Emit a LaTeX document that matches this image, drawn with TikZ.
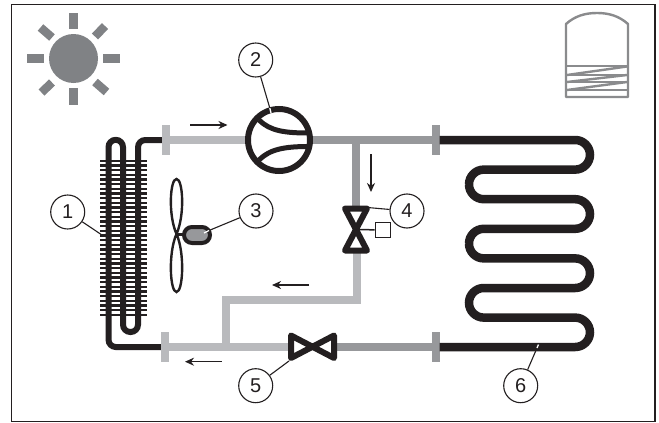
\documentclass[tikz,border=0pt]{standalone}
\usepackage{fontspec}
\setmainfont{Liberation Sans}
\usetikzlibrary{arrows.meta}
\definecolor{ink}{HTML}{231F20}
\definecolor{sungray}{HTML}{808285}
\definecolor{lightpipe}{HTML}{B9BABD}
\definecolor{midpipe}{HTML}{97989B}
\definecolor{tankgray}{HTML}{8A8B8D}
\tikzset{
  lab/.style={circle,draw=ink,line width=1.1pt,fill=white,minimum size=34pt,inner sep=0pt,text=ink,font=\fontsize{20}{20}\selectfont},
  leader/.style={draw=ink,line width=1.1pt},
  leadtip/.style={draw=white,line width=1.3pt},
  ray/.style={draw=sungray,line width=8.5pt},
  lightline/.style={draw=lightpipe,line width=8.5pt},
  midline/.style={draw=midpipe,line width=8.5pt},
  lightflange/.style={draw=lightpipe,line width=8pt},
  midflange/.style={draw=midpipe,line width=8pt},
  blackpipe/.style={draw=ink,line width=8.5pt,rounded corners=14.8pt},
  coilpipe/.style={draw=ink,line width=6pt,rounded corners=7.3pt},
  fin/.style={draw=ink,line width=2.3pt},
  valvebody/.style={draw=ink,line width=6pt,line join=round},
  flow/.style={draw=ink,line width=1.5pt,-{Stealth[length=9pt,width=8pt]}},
  tankline/.style={draw=tankgray,line width=2.4pt},
  blade/.style={draw=ink,line width=2.4pt,fill=white},
}
\begin{document}
\begin{tikzpicture}[x=1pt,y=-1pt]
\useasboundingbox (0,0) rectangle (659,423);
\fill[white] (0,0) rectangle (659,423);
% frame
\draw[ink,line width=1.8pt] (11.5,4.5) rectangle (655,421.5);
% sun
\fill[sungray] (73.5,58.5) circle (24.5pt);
\draw[ray] (73.5,13) -- (73.5,29);
\draw[ray] (73.5,88) -- (73.5,105);
\draw[ray] (27,58.5) -- (44,58.5);
\draw[ray] (103,58.5) -- (119.5,58.5);
\draw[ray] (40.5,27.5) -- (52,37.5);
\draw[ray] (105,26) -- (95,36.5);
\draw[ray] (41.5,92.5) -- (52,82.5);
\draw[ray] (106.5,92) -- (95,82);
% tank
\draw[tankline,line join=round] (566,97) -- (566,24) .. controls (575,16) and (585,13) .. (597,13) .. controls (609,13) and (619,16) .. (628,24) -- (628,97) -- cycle;
\foreach \yy in {66,75,82,90}
  \draw[tankline] (566,\yy) -- (628,\yy);
\draw[tankline] (567,75) -- (627,66.5);
\draw[tankline] (567,82) -- (627,75);
\draw[tankline] (567,90) -- (627,82);
% fins
\foreach \i in {0,...,33}
  \draw[fin] (100,{160.8+4.67*\i}) -- (146.7,{160.8+4.67*\i});
% coil
\draw[coilpipe] (162,347) -- (108.5,347) -- (108.5,139.8) -- (123,139.8) -- (123,332) -- (138,332) -- (138,140) -- (162,140);
% pipes
\draw[lightline] (165,140) -- (250,140);
\draw[midline] (308,140) -- (436,140);
\draw[midline,line width=7.5pt] (356,140) -- (356,208);
\draw[lightline,line width=8pt,line join=miter] (356.5,250) -- (356.5,300) -- (225.5,300) -- (225.5,347);
\draw[lightline] (165,347) -- (290,347);
\draw[midline] (335,347) -- (436,347);
% flanges
\draw[lightflange] (165.5,125) -- (165.5,155);
\draw[lightflange] (165,332) -- (165,362);
\draw[midflange] (435.5,125) -- (435.5,155);
\draw[midflange] (435.5,332) -- (435.5,362);
% serpentine
\draw[blackpipe] (439.5,140) -- (590,140) -- (590,169.6) -- (469,169.6) -- (469,199.2) -- (590,199.2) -- (590,228.8) -- (469,228.8) -- (469,258.4) -- (590,258.4) -- (590,288) -- (469,288) -- (469,317.6) -- (590,317.6) -- (590,347) -- (439.5,347);
% compressor
\draw[ink,line width=6pt,fill=white] (279,140) circle (31pt);
\draw[ink,line width=5pt] (259,120) .. controls (270,131) and (285,133) .. (309,133);
\draw[ink,line width=5pt] (259,160) .. controls (270,149) and (285,146.5) .. (309,146.5);
% valve 4
\draw[valvebody] (345,208.5) -- (367,208.5) -- (345,250.5) -- (367,250.5) -- cycle;
\node[draw=ink,line width=1.7pt,fill=white,minimum size=15pt,inner sep=0pt] (act) at (383,230) {};
\coordinate (v4c) at (356,229.5);
\draw[ink,line width=1.5pt] (v4c) -- (act);
% valve 5
\draw[valvebody] (291,335.5) -- (291,358) -- (334,335.5) -- (334,358) -- cycle;
% fan
\draw[blade] (176.5,234) .. controls (168,215) and (170,179) .. (176.5,179) .. controls (183,179) and (185,215) .. (176.5,234);
\draw[blade] (176.5,234) .. controls (168,253) and (170,292) .. (176.5,292) .. controls (183,292) and (185,253) .. (176.5,234);
\draw[ink,line width=3pt] (176.5,234) -- (185,234);
\draw[ink,line width=4pt,fill=midpipe,rounded corners=8pt] (184,227) rectangle (210,243);
% labels
\node[lab] (n1) at (67.7,212) {1};
\node[lab] (n2) at (255.7,60) {2};
\node[lab] (n3) at (256,211) {3};
\node[lab] (n4) at (407,211) {4};
\node[lab] (n5) at (255.7,385.7) {5};
\node[lab] (n6) at (520.7,385.7) {6};
\coordinate (e1) at (103,235.7);
\coordinate (e2) at (269.8,108);
\coordinate (e2b) at (271,113);
\coordinate (e3) at (209,230.5);
\coordinate (e3b) at (204,233);
\coordinate (e4) at (367.5,207.5);
\coordinate (e5b) at (289,361);
\coordinate (e6) at (537,348);
\coordinate (e6b) at (538.5,344.5);
\draw[leader] (n1) -- (e1);
\draw[leader] (n2) -- (e2);
\draw[leadtip] (e2) -- (e2b);
\draw[leader] (n3) -- (e3);
\draw[leadtip] (e3) -- (e3b);
\draw[leader] (n4) -- (e4);
\draw[leader] (n5) -- (e5b);
\draw[leader] (n6) -- (e6);
\draw[leadtip] (e6) -- (e6b);
% flow arrows
\coordinate (a1s) at (190,125); \coordinate (a1e) at (227.5,125);
\coordinate (a2s) at (371,154); \coordinate (a2e) at (371,192);
\coordinate (a3s) at (309,285); \coordinate (a3e) at (272,285);
\coordinate (a4s) at (221.7,361.7); \coordinate (a4e) at (185,361.7);
\draw[flow] (a1s) -- (a1e);
\draw[flow] (a2s) -- (a2e);
\draw[flow] (a3s) -- (a3e);
\draw[flow] (a4s) -- (a4e);
\end{tikzpicture}
\end{document}
